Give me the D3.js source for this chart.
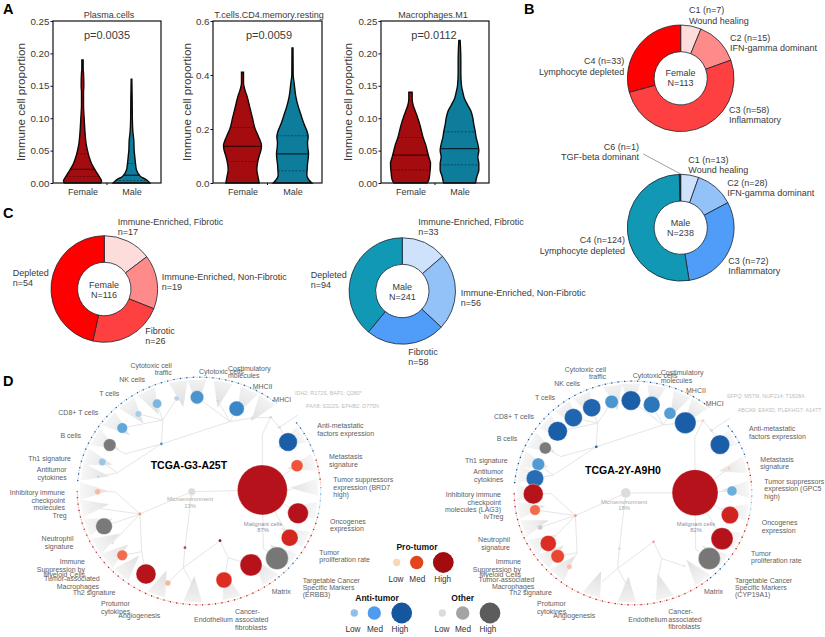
<!DOCTYPE html>
<html><head><meta charset="utf-8">
<script src="https://cdn.jsdelivr.net/npm/d3@7/dist/d3.min.js"></script>
<style>html,body{margin:0;padding:0;background:#fff}svg{display:block}text{font-family:"Liberation Sans",Arial,sans-serif}</style>
</head><body><svg id="c" width="825" height="637"></svg>
<script>
// ---------- DATA ----------
const groups = ["Female","Male"];
const violinTitles = ["Plasma.cells","T.cells.CD4.memory.resting","Macrophages.M1"];
const pValues = ["p=0.0035","p=0.0059","p=0.0112"];
const yMax = [0.25,0.6,0.25];
const yTicks = [[0,0.05,0.1,0.15,0.2,0.25],[0,0.2,0.4,0.6],[0,0.05,0.1,0.15,0.2,0.25]];
const yFormats = [".2f",".1f",".2f"];
// violin profiles: value levels and estimated density at each level
const v1FemaleY = [0,.003,.01,.02,.03,.04,.05,.06,.075,.1,.12,.14,.15,.17,.175,.19];
const v1FemaleD = [55,57,50,38,27,20,15,11,8,5,3,3,4,3,2,2];
const v1MaleY = [0,.005,.01,.02,.03,.04,.05,.065,.08,.1,.13,.16];
const v1MaleD = [55,45,27,15,12,10,8,7,4,2.5,2,1];
const v2FemaleY = [0,.02,.05,.08,.1,.12,.14,.16,.18,.2,.24,.28,.32,.35,.37,.41];
const v2FemaleD = [50,47,43,46,50,55,57,52,45,38,30,22,14,6,3,3];
const v2MaleY = [0,.01,.03,.05,.07,.09,.11,.13,.15,.17,.19,.22,.25,.28,.32,.37,.4,.5];
const v2MaleD = [58,50,43,44,45,47,48,46,45,47,44,34,26,18,10,5,2,1.5];
const v3FemaleY = [0,.005,.015,.03,.04,.05,.06,.07,.08,.09,.1,.11,.12,.13,.14];
const v3FemaleD = [50,55,58,60,55,50,45,38,33,28,22,15,8,5,5];
const v3MaleY = [0,.01,.02,.03,.04,.05,.06,.07,.08,.09,.1,.11,.12,.13,.14,.15,.17,.19,.22];
const v3MaleD = [48,52,58,58,55,58,55,50,47,43,40,35,25,15,10,6,4,4,2];
const quartiles = [[[.01,.021,.045],[.004,.012,.03]],[[.08,.136,.205],[.045,.108,.175]],[[.02,.043,.07],[.028,.053,.079]]];

const bFemaleValues = [7,15,58,33];
const bMaleValues = [13,28,72,124,1];
const cFemaleValues = [17,19,26,54];
const cMaleValues = [33,56,58,94];

// D: tree nodes in unit-circle coordinates, sizes as read
const leafNames = ["Trf","Cel","NK","Tc","CD8","Bc","Th1","Ant","Inh","Trg","Neu","ImS","TAM","Th2","Pro","Ang","End","CAF","Tar","Prf","Onc","TSp","Met","AMe","MI","MII","Cos","Mal","Mic"];
const leafU = [-.18,-.016,-.341,-.493,-.624,-.726,-.786,-.819,-.824,-.824,-.772,-.702,-.624,-.431,-.254,-.046,.203,.423,.634,.737,.805,.74,.797,.724,.431,.306,.154,.515,-.059];
const leafV = [-.806,-.815,-.759,-.67,-.548,-.4,-.252,-.124,.006,.15,.307,.45,.559,.722,.8,.823,.774,.643,.585,.406,.194,-.01,-.22,-.426,-.635,-.716,-.783,-.009,.006];
const leafKind = ["a","a","a","a","a","o","a","a","p","p","o","p","p","p","p","p","p","p","o","p","p","a","p","a","a","a","a","p","o"];
const leftScore  = [1,6.2,3,1.5,3.9,5.5,1.9,.3,1.25,.1,9.6,.3,3.9,13.9,1.25,.3,8.9,16.8,17.8,10,14.8,.07,5,12,.2,8,.3,87,1.9];
const rightScore = [6.2,13.1,11.3,11.3,13.1,5,5.5,10.5,13.9,3.9,1,8.9,6.2,1,.1,.1,.2,.2,16.8,16.8,10.5,3.5,.56,13.1,16,5,9.6,73.6,3.5];
const rightU = [-.178,-.017,-.344,-.497,-.628,-.731,-.789,-.817,-.831,-.817,-.775,-.706,-.628,-.531,-.25,-.05,.206,.425,.636,.742,.808,.825,.8,.725,.436,.308,.156,.517,-.06];
const rightV = [-.807,-.818,-.755,-.667,-.546,-.398,-.255,-.129,.009,.15,.304,.446,.56,.652,.78,.82,.779,.646,.58,.404,.195,-.018,-.217,-.428,-.621,-.705,-.782,-.003,0];
const junctionNames = ["A1","A","A2","B","C","D","E","F","G","H","I","K","L","M","N","N2","O"];
const junctionU = [-.683,-.48,-.466,-.114,-.128,.171,.238,-.306,-.295,-.602,-.664,.252,.583,.515,.653,.805,.523];
const junctionV = [.006,.2,.528,.493,.667,.432,.58,-.409,-.617,-.322,-.159,-.603,-.641,-.493,-.554,-.66,.498];
const treeLinks = [["Inh","A1"],["A1","A"],["Trg","A"],["Neu","A"],["ImS","A"],["TAM","A2"],["Th2","A2"],["A2","A"],["A","Mic"],["Mic","B"],["B","C"],["C","Pro"],["C","Ang"],["C","D"],["D","E"],["E","End"],["E","CAF"],["Bc","H"],["H","F"],["Th1","I"],["Ant","I"],["I","F"],["F","G"],["G","CD8"],["G","Tc"],["G","NK"],["G","Trf"],["F","K"],["K","Cel"],["K","Cos"],["K","MII"],["K","MI"],["MI","L"],["L","M"],["M","Mal"],["L","N"],["N","AMe"],["N","N2"],["Mal","Met"],["Mal","TSp"],["Mal","Onc"],["Mal","Prf"],["Mal","O"],["O","Tar"],["Mic","Mal"]];
const coneAngles = [280,288,299,310.7,322.5,333.7,350,359,11.7,25,35,59.5,75,88,100.4,116,129,143,164,183,201,221,231,240,251,261,270];
const rimStart = [275,53,74,88,103,126,141];
const rimEnd   = [400,72,87,102,125,140,270];
const rimKind  = ["a","a","p","l","p","a","p"];
const leftJunctionDots = [["A","#e8a07a"],["F","#6d8fb0"],["B","#9a5a48"],["D","#6a2030"],["L","#dcdcdc"],["N","#dcdcdc"]];
const rightJunctionDots = [["A","#f0a070"],["F","#2a6aa8"],["B","#dcdcdc"],["D","#eda9a0"],["L","#f1d4c0"],["N","#dcdcdc"]];

const legendTitles = ["Pro-tumor","Anti-tumor","Other"];
const legendLevels = ["Low","Med","High"];
const legendScores = [1.9,6.2,15];

// ---------- LAYOUT ----------
const svg = d3.select("#c");
const TXT = "#3a3a3a", DL = "#5e5e5e";
function T(x,y,s,o={}){
  return svg.append("text").attr("x",x).attr("y",y).text(s)
   .attr("font-size",o.size||9).attr("fill",o.fill||TXT)
   .attr("text-anchor",o.a||"start").attr("font-weight",o.w||"normal");
}
function multi(lines,x,ys,o){lines.forEach((l,i)=>T(x,ys[i],l,o));}
[["A",3,14],["B",524,14],["C",3,218],["D",3,386]].forEach(d=>T(d[1],d[2],d[0],{size:14.5,w:"bold",fill:"#000"}));

// ---------- PANEL A ----------
const frames=[[53,161],[213,322],[381,489]];
const vTop=21,vBot=183;
const profiles=[[[v1FemaleY,v1FemaleD],[v1MaleY,v1MaleD]],[[v2FemaleY,v2FemaleD],[v2MaleY,v2MaleD]],[[v3FemaleY,v3FemaleD],[v3MaleY,v3MaleD]]];
const groupFill=["#a50c0f","#0e7d9c"], medStroke=["#3a0505","#04202e"];
const titleX=[109,269,433],pX=[107,269,434],ylabX=[20.7,187.3,347.7];
const wScale=d3.scaleLinear().domain([0,60]).range([0,20]);
frames.forEach((f,i)=>{
  const y=d3.scaleLinear().domain([0,yMax[i]]).range([vBot,vTop]);
  const x=d3.scalePoint().domain(groups).range([f[0]+29.5,f[1]-29.5]);
  groups.forEach((g,k)=>{
    const [ys,ds]=profiles[i][k]; const pts=ys.map((v,j)=>[v,ds[j]]);
    const area=d3.area().y(d=>y(d[0])).x0(d=>x(g)-wScale(d[1])).x1(d=>x(g)+wScale(d[1])).curve(d3.curveMonotoneY);
    const closed=area(pts)+"Z";
    svg.append("path").attr("d",closed).attr("fill",groupFill[k]).attr("stroke","#0a0a0a").attr("stroke-width",1.4);
    const hw=d3.scaleLinear().domain(ys).range(ds);
    quartiles[i][k].forEach((q,j)=>{
      svg.append("line").attr("x1",x(g)-wScale(hw(q))).attr("x2",x(g)+wScale(hw(q))).attr("y1",y(q)).attr("y2",y(q))
       .attr("stroke",medStroke[k]).attr("stroke-width",j==1?1.3:.7).attr("stroke-dasharray",j==1?null:"2 1.5").attr("opacity",j==1?1:.8);
    });
  });
  svg.append("rect").attr("x",f[0]).attr("y",vTop).attr("width",f[1]-f[0]).attr("height",vBot-vTop).attr("fill","none").attr("stroke","#111").attr("stroke-width",1.2);
  const ax=d3.axisLeft(y).tickValues(yTicks[i]).tickFormat(d3.format(yFormats[i])).tickSize(2.5).tickPadding(1);
  const g=svg.append("g").attr("transform",`translate(${f[0]},0)`).call(ax);
  g.select(".domain").remove(); g.selectAll("line").attr("stroke","#111");
  g.selectAll("text").attr("font-size",9.8).attr("fill",TXT);
  const bx=d3.axisBottom(x).tickSize(0).tickPadding(6);
  const gb=svg.append("g").attr("transform",`translate(0,${vBot})`).call(bx);
  gb.select(".domain").remove(); gb.selectAll("text").attr("font-size",9).attr("fill",TXT);
  svg.append("line").attr("x1",(f[0]+f[1])/2).attr("x2",(f[0]+f[1])/2).attr("y1",vBot).attr("y2",vBot+2).attr("stroke","#111");
  T(titleX[i],17.5,violinTitles[i],{a:"middle",size:9});
  T(pX[i],39,pValues[i],{a:"middle",size:11});
  svg.append("text").attr("transform",`translate(${ylabX[i]+4},${vTop+81}) rotate(-90)`).attr("text-anchor","middle").attr("font-size",11.6).attr("fill",TXT).text("Immune cell proportion");
});

// ---------- DONUTS ----------
function donut(cx,cy,ro,ri,vals,cols){
  const pie=d3.pie().sort(null)(vals);
  const arc=d3.arc().outerRadius(ro).innerRadius(ri);
  svg.append("g").attr("transform",`translate(${cx},${cy})`).selectAll("path").data(pie).join("path")
    .attr("d",arc).attr("fill",(d,i)=>cols[i]).attr("stroke","#1b2430").attr("stroke-width",.8);
}
const redRamp=["#fddcdc","#ff8a8a","#ff4040","#ff0000"], blueRamp=["#cfe2fb","#93c2f8","#4f9cf9","#1098b5","#1b2430"];
donut(680.7,78.3,53.3,26.6,bFemaleValues,redRamp);
donut(680.7,227.7,53.4,26.6,bMaleValues,blueRamp);
donut(104.3,289,53.3,26.7,cFemaleValues,redRamp);
donut(402.3,291,53.2,26.7,cMaleValues,blueRamp);
svg.append("line").attr("x1",643.3).attr("y1",154).attr("x2",680.7).attr("y2",174).attr("stroke","#777").attr("stroke-width",.7);
[
 [["C1 (n=7)","Wound healing"],689,[12.7,23.7]],
 [["C2 (n=15)","IFN-gamma dominant"],730,[40.7,50.7]],
 [["C3 (n=58)","Inflammatory"],729,[112.7,122.7]],
 [["C1 (n=13)","Wound healing"],688.3,[163.3,173.3]],
 [["C2 (n=28)","IFN-gamma dominant"],727.3,[186,196]],
 [["C3 (n=72)","Inflammatory"],728.3,[264.3,274.3]],
 [["Immune-Enriched, Fibrotic","n=17"],117.7,[224.7,234.7]],
 [["Immune-Enriched, Non-Fibrotic","n=19"],161.7,[280,290]],
 [["Fibrotic","n=26"],145.3,[334.3,344.3]],
 [["Depleted","n=54"],12.7,[276,286]],
 [["Immune-Enriched, Fibrotic","n=33"],418.3,[224.7,235]],
 [["Immune-Enriched, Non-Fibrotic","n=56"],460.7,[296,306]],
 [["Fibrotic","n=58"],408.3,[355.3,365]],
 [["Depleted","n=94"],310.7,[278.3,288.3]]
].forEach(d=>multi(d[0],d[1],d[2],{}));
[
 [["C4 (n=33)","Lymphocyte depleted"],624.3,[64.3,74.7]],
 [["C6 (n=1)","TGF-beta dominant"],639,[149.7,160]],
 [["C4 (n=124)","Lymphocyte depleted"],625,[243.3,253.7]]
].forEach(d=>multi(d[0],d[1],d[2],{a:"end"}));
[
 [["Female","N=113"],680.5,[76.3,86]],
 [["Male","N=238"],680.5,[226,236]],
 [["Female","N=116"],104,[287.7,297.7]],
 [["Male","N=241"],402.3,[290,300]]
].forEach(d=>multi(d[0],d[1],d[2],{a:"middle"}));

// ---------- PANEL D ----------
const rScale=d3.scaleSqrt().domain([0,100]).range([0,26.8]);
const kindColor={
 a:d3.scaleLinear().domain([1,3,4,8,12]).range(["#b5d3ea","#7ab6dd","#5ea6d9","#3a86c8","#1a5ea8"]).clamp(true),
 p:d3.scaleLinear().domain([.3,1.25,4.5,8.9,14]).range(["#fbd8c0","#f7b8a0","#f2583a","#dd2c22","#b5121b"]).clamp(true),
 o:d3.scaleLinear().domain([.3,1,5,18]).range(["#e0e0e0","#cccccc","#7a7a7a","#777777"]).clamp(true)
};
const defs=svg.append("defs");
function tree(id,cx,cy,rx,ry,U,V,score,jdots,rimDark){
  const xS=d3.scaleLinear().domain([-1,1]).range([cx-rx,cx+rx]);
  const yS=d3.scaleLinear().domain([-1,1]).range([cy-ry,cy+ry]);
  const polar=(deg,d)=>[xS(d*Math.sin(deg*Math.PI/180)),yS(-d*Math.cos(deg*Math.PI/180))];
  const gr=defs.append("radialGradient").attr("id",id).attr("gradientUnits","userSpaceOnUse").attr("cx",cx).attr("cy",cy).attr("r",rx);
  gr.append("stop").attr("offset","0.72").attr("stop-color","#e0e0e0");
  gr.append("stop").attr("offset","1").attr("stop-color","#fafafa");
  const line=d3.line();
  const g=svg.append("g");
  coneAngles.forEach(a=>{
    const w=4.6;
    g.append("path").attr("d",line([polar(a,.74),polar(a-w,.97),polar(a+w,.97)])+"Z").attr("fill",`url(#${id})`);
  });
  const pos={};
  leafNames.forEach((n,i)=>pos[n]=[xS(U[i]),yS(V[i])]);
  junctionNames.forEach((n,i)=>pos[n]=[xS(junctionU[i]),yS(junctionV[i])]);
  treeLinks.forEach(l=>g.append("path").attr("d",line([pos[l[0]],pos[l[1]]])).attr("stroke","#e6e6e6").attr("stroke-width",1).attr("fill","none"));
  const rimBase={a:"#a9c8e2",p:"#f4b3a4",l:"#cfe0ef"}, rimDot={a:rimDark,p:"#b3202a",l:"#7fb0d6"};
  rimStart.forEach((s,i)=>{
    const pts=d3.range(s,rimEnd[i]+.5,1).map(a=>polar(a,.99));
    g.append("path").attr("d",line(pts)).attr("fill","none").attr("stroke",rimBase[rimKind[i]]).attr("stroke-width",1).attr("stroke-dasharray","1.5 1");
    g.append("path").attr("d",line(pts)).attr("fill","none").attr("stroke",rimDot[rimKind[i]]).attr("stroke-width",1.3).attr("stroke-dasharray","1.2 5.3");
  });
  jdots.forEach(d=>g.append("circle").attr("cx",pos[d[0]][0]).attr("cy",pos[d[0]][1]).attr("r",1.4).attr("fill",d[1]));
  leafNames.forEach((n,i)=>{
    g.append("circle").attr("cx",pos[n][0]).attr("cy",pos[n][1]).attr("r",rScale(score[i]))
     .attr("fill",n=="Mic"?"#dcdcdc":kindColor[leafKind[i]](score[i])).attr("stroke","#fff").attr("stroke-opacity",.7).attr("stroke-width",.5);
  });
}
tree("gL",199,491,123,115,leafU,leafV,leftScore,leftJunctionDots,"#2c5f90");
tree("gR",633,493,120,113,rightU,rightV,rightScore,rightJunctionDots,"#174f8c");

const S={size:7,fill:DL};
const SE={size:7,fill:DL,a:"end"};
[
 [["Costimulatory","molecules"],228,[371,377.7]],
 [["Cytotoxic cells"],199,[374]],
 [["MHCII"],252.7,[388.7]],
 [["MHCI"],273.3,[402.3]],
 [["Anti-metastatic","factors expression"],317.3,[428,435.7]],
 [["Metastasis","signature"],329,[459.3,467]],
 [["Tumor suppressors","expression (BRD7","high)"],333.3,[482,490,497.3]],
 [["Oncogenes","expression"],330,[523.7,531]],
 [["Tumor","proliferation rate"],319.3,[555,562.3]],
 [["Targetable Cancer","Specific Markers","(ERBB3)"],302.7,[582.7,590,597.3]],
 [["Matrix"],271.7,[593.7]],
 [["Cancer-","associated","fibroblasts"],235,[614.3,622,629.7]],
 [["Endothelium"],194,[622]],
 [["Angiogenesis"],118.3,[617.7]],
 [["Protumor","cytokines"],101,[605.7,613.7]],
 [["Th2 signature"],72.7,[595]],
 [["Tumor-associated"],44,[581]],
 [["Macrophages"],56.7,[588.7]],
 [["Costimulatory","molecules"],660.7,[375,382.7]],
 [["Cytotoxic cells"],632.7,[377.7]],
 [["MHCII"],686,[392.7]],
 [["MHCI"],705.7,[406]],
 [["Anti-metastatic","factors expression"],749,[431,438.7]],
 [["Metastasis","signature"],760.3,[461.7,469.3]],
 [["Tumor suppressors","expression (GPC5","high)"],764.3,[483.7,491.3,499]],
 [["Oncogenes","expression"],761.7,[525,532.7]],
 [["Tumor","proliferation rate"],751,[555.7,563]],
 [["Targetable Cancer","Specific Markers","(CYP19A1)"],735,[582.7,590,597.3]],
 [["Matrix"],704,[593.7]],
 [["Cancer-","associated","fibroblasts"],668.3,[614,621.7,629.3]],
 [["Endothelium"],628.3,[621.7]],
 [["Angiogenesis"],553.3,[617.7]],
 [["Protumor","cytokines"],537,[605.7,613.7]],
 [["Th2 signature"],509,[595]]
].forEach(d=>multi(d[0],d[1],d[2],S));
[
 [["Cytotoxic cell","traffic"],171.7,[368,374.5]],
 [["NK cells"],145,[382.3]],
 [["T cells"],119.3,[396]],
 [["CD8+ T cells"],98.3,[415]],
 [["B cells"],81,[437.7]],
 [["Th1 signature"],71,[461]],
 [["Antitumor","cytokines"],66.7,[472,479.7]],
 [["Inhibitory immune","checkpoint","molecules"],65,[495.3,503,510.3]],
 [["Treg"],66.7,[517.7]],
 [["Neutrophil","signature"],73.5,[541,549]],
 [["Immune","Suppression by","Myeloid Cells"],85,[563.7,571.7,577]],
 [["Cytotoxic cell","traffic"],606,[372,378.7]],
 [["NK cells"],580,[386.3]],
 [["T cells"],555,[400]],
 [["CD8+ T cells"],534,[418.7]],
 [["B cells"],517.3,[440.7]],
 [["Th1 signature"],507.7,[463.3]],
 [["Antitumor","cytokines"],503.3,[474.3,482]],
 [["Inhibitory immune","checkpoint","molecules (LAG3)"],501,[497,504.7,512]],
 [["IvTreg"],503.3,[519.3]],
 [["Neutrophil","signature"],510,[542.3,550]],
 [["Immune","Suppression by","Myeloid Cells"],521,[564,571.7,577]],
 [["Tumor-associated","Macrophages"],534.3,[581.7,589]]
].forEach(d=>multi(d[0],d[1],d[2],SE));
const G={size:5.4,fill:"#bdbdbd"};
T(295,395,"IDH2: R172S, BAP1: Q280*",G);
T(306,408,"PAX8: S322S, EPHB2: D775N",G);
T(726.7,398.3,"SFPQ: M579I, NUP214: T1828A",G);
T(737.7,412,"ABCA9: E643D, PLEKHG7: A147T",G);
T(150.7,469,"TCGA-G3-A25T",{size:10.5,w:"bold",fill:"#000"});
T(585,474,"TCGA-2Y-A9H0",{size:10.5,w:"bold",fill:"#000"});
const M={size:5.8,fill:"#aaa",a:"middle"}, M2={size:5.8,fill:"#8d8da8",a:"middle"};
multi(["Microenvironment","13%"],190,[501,507.7],M);
multi(["Malignant cells","87%"],263,[525.7,532],M2);
multi(["Microenvironment","18%"],624,[503.7,510.3],M);
multi(["Malignant cells","82%"],696,[525.7,532],M2);

// legend
const legendX=[[396.7,416.7,443.3],[354.3,374.3,401.7],[442.3,462.7,490]];
const legendLabelX=[[396,417.3,442.7],[353,375,400],[442,463,488]];
const legendY=[[547,562.5,579],[598,613,629],[598,613,629]];
const legendTitleX=[417,377,462.7];
const legendCols=[["#f9d9b4","#e2451d","#a30c0f"],["#8fc0ea","#4f9cee","#15569f"],["#dcdcdc","#a3a3a3","#5c5c5c"]];
legendTitles.forEach((t,i)=>{
  T(legendTitleX[i],legendY[i][0]+3,t,{a:"middle",size:8.5,w:"bold",fill:"#111"});
  legendLevels.forEach((l,j)=>{
    svg.append("circle").attr("cx",legendX[i][j]).attr("cy",legendY[i][1]).attr("r",rScale(legendScores[j])).attr("fill",legendCols[i][j]);
    T(legendLabelX[i][j],legendY[i][2]+2.5,l,{a:"middle",size:8.2,fill:"#333"});
  });
});
</script></body></html>
